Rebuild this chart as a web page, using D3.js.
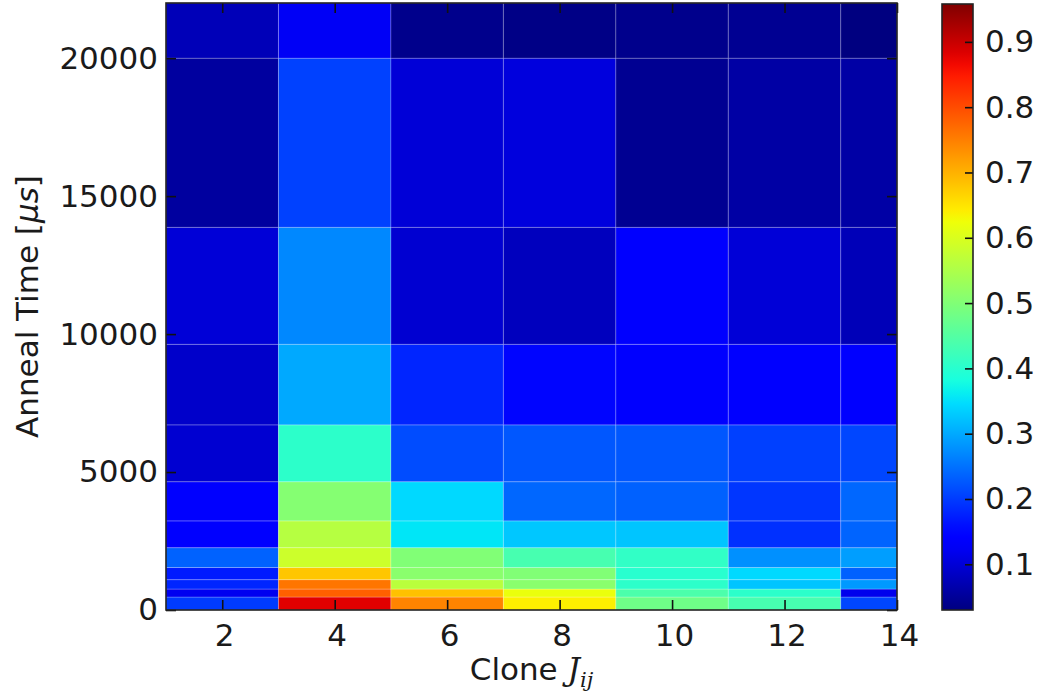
<!DOCTYPE html>
<html>
<head>
<meta charset="utf-8">
<script src="https://cdn.jsdelivr.net/npm/d3@7"></script>
<style>
  html, body { margin: 0; padding: 0; background: #fff; }
  svg text { font-family: "DejaVu Sans", sans-serif; fill: #1a1a1a; }
</style>
</head>
<body>
<svg id="chart" width="1039" height="696"></svg>
<script>
// Clone index bin edges (x) and anneal time bin edges in microseconds (y)
const cloneEdges = [1, 3, 5, 7, 9, 11, 13, 14];
const timeEdges = [0, 470, 760, 1100, 1540, 2260, 3230, 4650, 6710, 9630, 13870, 20000, 22000];

// Success probability per clone, one value per anneal-time bin (bottom to top)
const clone2  = [0.20, 0.12, 0.18, 0.17, 0.235, 0.135, 0.145, 0.095, 0.09, 0.10, 0.055, 0.075];
const clone4  = [0.88, 0.78, 0.76, 0.68, 0.585, 0.56, 0.505, 0.405, 0.30, 0.27, 0.205, 0.125];
const clone6  = [0.745, 0.685, 0.565, 0.51, 0.50, 0.355, 0.343, 0.215, 0.18, 0.095, 0.10, 0.04];
const clone8  = [0.64, 0.62, 0.51, 0.50, 0.435, 0.327, 0.24, 0.225, 0.15, 0.08, 0.105, 0.035];
const clone10 = [0.48, 0.44, 0.405, 0.40, 0.41, 0.325, 0.234, 0.225, 0.145, 0.135, 0.045, 0.04];
const clone12 = [0.435, 0.405, 0.325, 0.343, 0.277, 0.19, 0.195, 0.204, 0.14, 0.10, 0.059, 0.045];
const clone14 = [0.21, 0.118, 0.285, 0.234, 0.29, 0.237, 0.24, 0.21, 0.135, 0.075, 0.06, 0.03];
const columns = [clone2, clone4, clone6, clone8, clone10, clone12, clone14];

// Axis ticks and colour range
const xTicks = [2, 4, 6, 8, 10, 12, 14];
const yTicks = [0, 5000, 10000, 15000, 20000];
const cbTicks = [0.1, 0.2, 0.3, 0.4, 0.5, 0.6, 0.7, 0.8, 0.9];
const colorDomain = [0.03, 0.958];

// matplotlib "jet" colormap segments
const jetR = [[0, 0], [0.35, 0], [0.66, 1], [0.89, 1], [1, 0.5]];
const jetG = [[0, 0], [0.125, 0], [0.375, 1], [0.64, 1], [0.91, 0], [1, 0]];
const jetB = [[0, 0.5], [0.11, 1], [0.34, 1], [0.65, 0], [1, 0]];
function seg(pts, t) {
  for (let i = 1; i < pts.length; i++) {
    if (t <= pts[i][0]) {
      const [x0, y0] = pts[i - 1], [x1, y1] = pts[i];
      return y0 + (y1 - y0) * (t - x0) / (x1 - x0);
    }
  }
  return pts[pts.length - 1][1];
}
function jet(t) {
  t = Math.max(0, Math.min(1, t));
  return d3.rgb(255 * seg(jetR, t), 255 * seg(jetG, t), 255 * seg(jetB, t)).formatHex();
}

const svg = d3.select("#chart");
const plot = { left: 166, right: 897, top: 3, bottom: 610 };
const cbar = { left: 942, right: 973, top: 4, bottom: 610 };

const x = d3.scaleLinear().domain([1, 14]).range([plot.left, plot.right]);
const y = d3.scaleLinear().domain([0, 22000]).range([plot.bottom, plot.top]);
const norm = d3.scaleLinear().domain(colorDomain).range([0, 1]);
const color = v => jet(norm(v));

// Heatmap cells
const cells = [];
columns.forEach((col, i) => {
  col.forEach((v, j) => {
    cells.push({ x0: cloneEdges[i], x1: cloneEdges[i + 1], y0: timeEdges[j], y1: timeEdges[j + 1], v });
  });
});
svg.append("g").selectAll("rect").data(cells).join("rect")
  .attr("x", d => x(d.x0))
  .attr("y", d => y(d.y1))
  .attr("width", d => x(d.x1) - x(d.x0))
  .attr("height", d => y(d.y0) - y(d.y1))
  .attr("fill", d => color(d.v))
  .attr("stroke", "rgba(255,255,255,0.22)")
  .attr("stroke-width", 1);

// Axes with inward ticks on all four sides
const fontSize = 31;
const tickLen = 10;
const axB = svg.append("g").attr("transform", `translate(0,${plot.bottom})`)
  .call(d3.axisBottom(x).tickValues(xTicks).tickSizeInner(-tickLen).tickSizeOuter(0).tickPadding(14));
const axT = svg.append("g").attr("transform", `translate(0,${plot.top})`)
  .call(d3.axisTop(x).tickValues(xTicks).tickSizeInner(-tickLen).tickSizeOuter(0).tickFormat(""));
const axL = svg.append("g").attr("transform", `translate(${plot.left},0)`)
  .call(d3.axisLeft(y).tickValues(yTicks).tickSizeInner(-tickLen).tickSizeOuter(0).tickPadding(8).tickFormat(d3.format("d")));
const axR = svg.append("g").attr("transform", `translate(${plot.right},0)`)
  .call(d3.axisRight(y).tickValues(yTicks).tickSizeInner(-tickLen).tickSizeOuter(0).tickFormat(""));
[axB, axT, axL, axR].forEach(a => {
  a.select(".domain").remove();
  a.selectAll(".tick line").attr("stroke", "#111").attr("stroke-width", 1.6);
  a.selectAll("text").attr("font-size", fontSize).attr("font-family", "DejaVu Sans").attr("fill", "#1a1a1a");
});
axB.selectAll("text").attr("dy", "0.71em").attr("dx", 2);

// Plot frame
svg.append("rect")
  .attr("x", plot.left).attr("y", plot.top)
  .attr("width", plot.right - plot.left).attr("height", plot.bottom - plot.top)
  .attr("fill", "none").attr("stroke", "#222").attr("stroke-width", 1.6);

// Colour bar
const defs = svg.append("defs");
const grad = defs.append("linearGradient").attr("id", "jetGrad")
  .attr("x1", 0).attr("y1", 1).attr("x2", 0).attr("y2", 0);
d3.range(0, 1.0001, 0.02).forEach(t => {
  grad.append("stop").attr("offset", t).attr("stop-color", jet(t));
});
svg.append("rect")
  .attr("x", cbar.left).attr("y", cbar.top)
  .attr("width", cbar.right - cbar.left).attr("height", cbar.bottom - cbar.top)
  .attr("fill", "url(#jetGrad)");
const cy = d3.scaleLinear().domain(colorDomain).range([cbar.bottom, cbar.top]);
const axC = svg.append("g").attr("transform", `translate(${cbar.right},0)`)
  .call(d3.axisRight(cy).tickValues(cbTicks).tickSizeInner(-8).tickSizeOuter(0).tickPadding(12).tickFormat(d3.format(".1f")));
axC.select(".domain").remove();
axC.selectAll(".tick line").attr("stroke", "#111").attr("stroke-width", 1.6);
axC.selectAll("text").attr("font-size", fontSize).attr("font-family", "DejaVu Sans").attr("fill", "#1a1a1a");
svg.append("rect")
  .attr("x", cbar.left).attr("y", cbar.top)
  .attr("width", cbar.right - cbar.left).attr("height", cbar.bottom - cbar.top)
  .attr("fill", "none").attr("stroke", "#222").attr("stroke-width", 1.6);

// Axis titles
const xl = svg.append("text")
  .attr("x", (plot.left + plot.right) / 2).attr("y", 680)
  .attr("text-anchor", "middle").attr("font-size", fontSize);
xl.append("tspan").text("Clone ");
xl.append("tspan").attr("font-family", "DejaVu Serif").attr("font-style", "italic").text("J");
xl.append("tspan").attr("font-family", "DejaVu Serif").attr("font-style", "italic")
  .attr("font-size", 21).attr("dy", 7).text("ij");

const yl = svg.append("text")
  .attr("transform", `translate(38,${(plot.top + plot.bottom) / 2}) rotate(-90)`)
  .attr("text-anchor", "middle").attr("font-size", fontSize);
yl.append("tspan").text("Anneal Time [");
yl.append("tspan").attr("font-style", "italic").text("μs");
yl.append("tspan").text("]");
</script>
</body>
</html>
